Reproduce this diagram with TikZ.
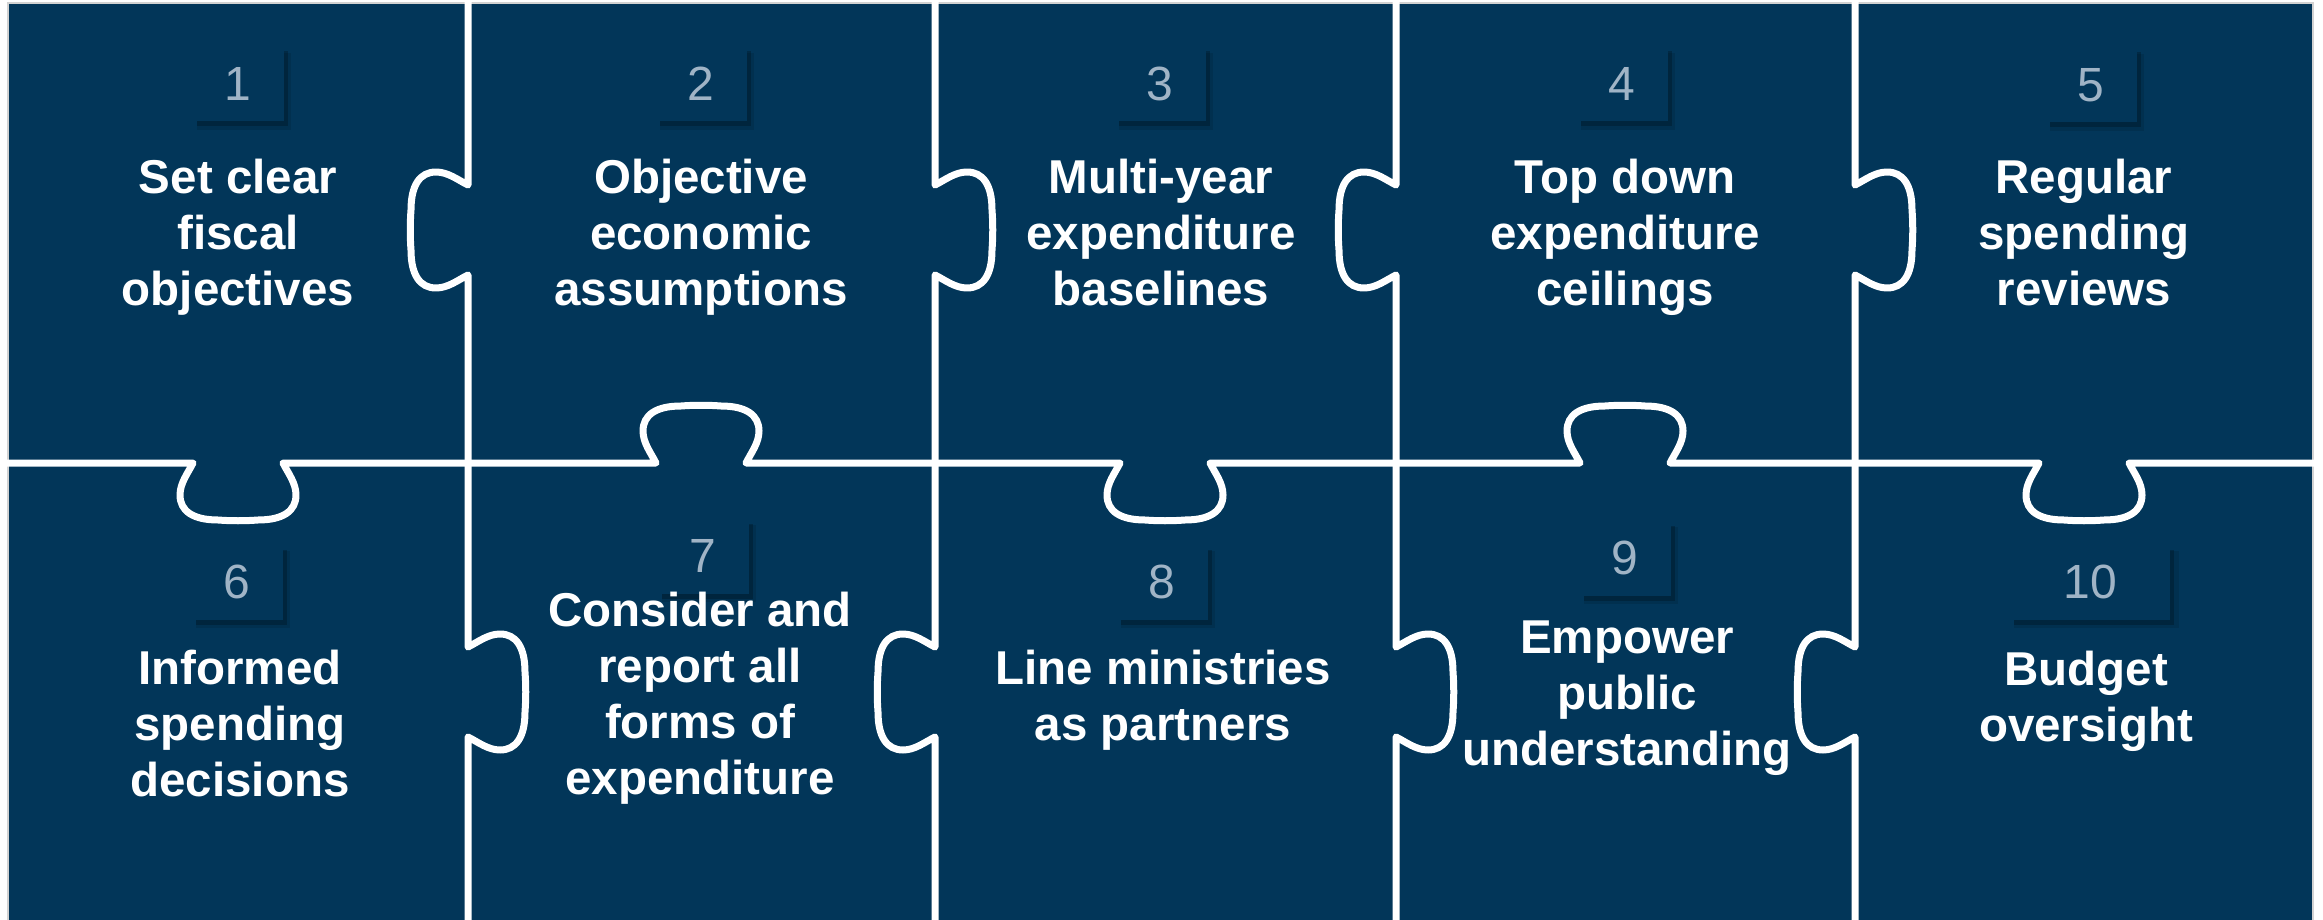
\documentclass[tikz,border=0pt]{standalone}
\usepackage{fontspec}
\setmainfont{Liberation Sans}
\usetikzlibrary{shadows}
\definecolor{navy}{RGB}{2,54,89}
\definecolor{numgray}{RGB}{160,180,198}
\begin{document}
\begin{tikzpicture}[x=1pt,y=-1pt,
  sep/.style={draw=white,line width=7pt,line join=round},
  vknob/.style n args={3}{insert path={
    -- (#1,{#2-45}) .. controls ({#1+(#3)*10},{#2-50}) and ({#1+(#3)*20},{#2-58}) .. ({#1+(#3)*32},{#2-58})
    .. controls ({#1+(#3)*48},{#2-58}) and ({#1+(#3)*57},{#2-45}) .. ({#1+(#3)*57},{#2-20})
    .. controls ({#1+(#3)*58},{#2-7}) and ({#1+(#3)*58},{#2+7}) .. ({#1+(#3)*57},{#2+20})
    .. controls ({#1+(#3)*57},{#2+45}) and ({#1+(#3)*48},{#2+58}) .. ({#1+(#3)*32},{#2+58})
    .. controls ({#1+(#3)*20},{#2+58}) and ({#1+(#3)*10},{#2+50}) .. (#1,{#2+45})}},
  hknob/.style n args={3}{insert path={
    -- ({#1-45},#2) .. controls ({#1-50},{#2+(#3)*10}) and ({#1-58},{#2+(#3)*20}) .. ({#1-58},{#2+(#3)*32})
    .. controls ({#1-58},{#2+(#3)*48}) and ({#1-45},{#2+(#3)*57}) .. ({#1-20},{#2+(#3)*57})
    .. controls ({#1-7},{#2+(#3)*58}) and ({#1+7},{#2+(#3)*58}) .. ({#1+20},{#2+(#3)*57})
    .. controls ({#1+45},{#2+(#3)*57}) and ({#1+58},{#2+(#3)*48}) .. ({#1+58},{#2+(#3)*32})
    .. controls ({#1+58},{#2+(#3)*20}) and ({#1+50},{#2+(#3)*10}) .. ({#1+45},#2)}},
  shadowed/.style={
    general shadow={fill=black, opacity=0.10, shadow xshift=6pt, shadow yshift=-7pt, shadow scale=1.03},
    general shadow={fill=black, opacity=0.22, shadow xshift=4pt, shadow yshift=-5pt}},
  numbox/.style={shadowed, fill=navy, text=numgray, font=\fontsize{48}{48}\selectfont,
    minimum height=75pt, minimum width=91pt, inner sep=0pt},
  txt/.style={text=white, font=\fontsize{47.5}{56}\selectfont\bfseries, align=center,
    inner sep=0pt, anchor=north}]
\useasboundingbox (0,0) rectangle (2323,920);
\fill[white] (0,0) rectangle (2323,920);
\filldraw[fill=navy, draw=gray!35, line width=1.5pt] (8,3) rectangle (2313,925);
% horizontal separator
\draw[sep] (0,463) [hknob={238}{463}{1}] [hknob={701}{463}{-1}] [hknob={1165}{463}{1}]
  [hknob={1625}{463}{-1}] [hknob={2084}{463}{1}] -- (2323,463);
% vertical separators, top row
\draw[sep] (468,0) [vknob={468}{230}{-1}] -- (468,463);
\draw[sep] (935,0) [vknob={935}{230}{1}] -- (935,463);
\draw[sep] (1396,0) [vknob={1396}{230}{-1}] -- (1396,463);
\draw[sep] (1855,0) [vknob={1855}{230}{1}] -- (1855,463);
% vertical separators, bottom row
\draw[sep] (468,463) [vknob={468}{692}{1}] -- (468,925);
\draw[sep] (935,463) [vknob={935}{692}{-1}] -- (935,925);
\draw[sep] (1396,463) [vknob={1396}{692}{1}] -- (1396,925);
\draw[sep] (1855,463) [vknob={1855}{692}{-1}] -- (1855,925);
% number boxes
\node[numbox] (n1) at (238,84) {1};
\node[numbox] (n2) at (701,84) {2};
\node[numbox] (n3) at (1160,84) {3};
\node[numbox] (n4) at (1622,84) {4};
\node[numbox] (n5) at (2091,85) {5};
\node[numbox] (n6) at (237,582) {6};
\node[numbox] (n7) at (703,556) {7};
\node[numbox] (n8) at (1162,582) {8};
\node[numbox] (n9) at (1625,558) {9};
\node[numbox, minimum width=160pt] (n10) at (2090,582) {10};
% texts
\node[txt] (t1) at (238,159) {Set clear\\fiscal\\objectives};
\node[txt] (t2) at (701,159) {Objective\\economic\\assumptions};
\node[txt] (t3) at (1161,159) {Multi-year\\expenditure\\baselines};
\node[txt] (t4) at (1625,159) {Top down\\expenditure\\ceilings};
\node[txt] (t5) at (2084,159) {Regular\\spending\\reviews};
\node[txt] (t6) at (240,650) {Informed\\spending\\decisions};
\node[txt] (t7) at (700,592) {Consider and\\report all\\forms of\\expenditure};
\node[txt] (t8) at (1163,650) {Line ministries\\as partners};
\node[txt] (t9) at (1627,621) {Empower\\public\\understanding};
\node[txt] (t10) at (2086,651) {Budget\\oversight};
\end{tikzpicture}
\end{document}
